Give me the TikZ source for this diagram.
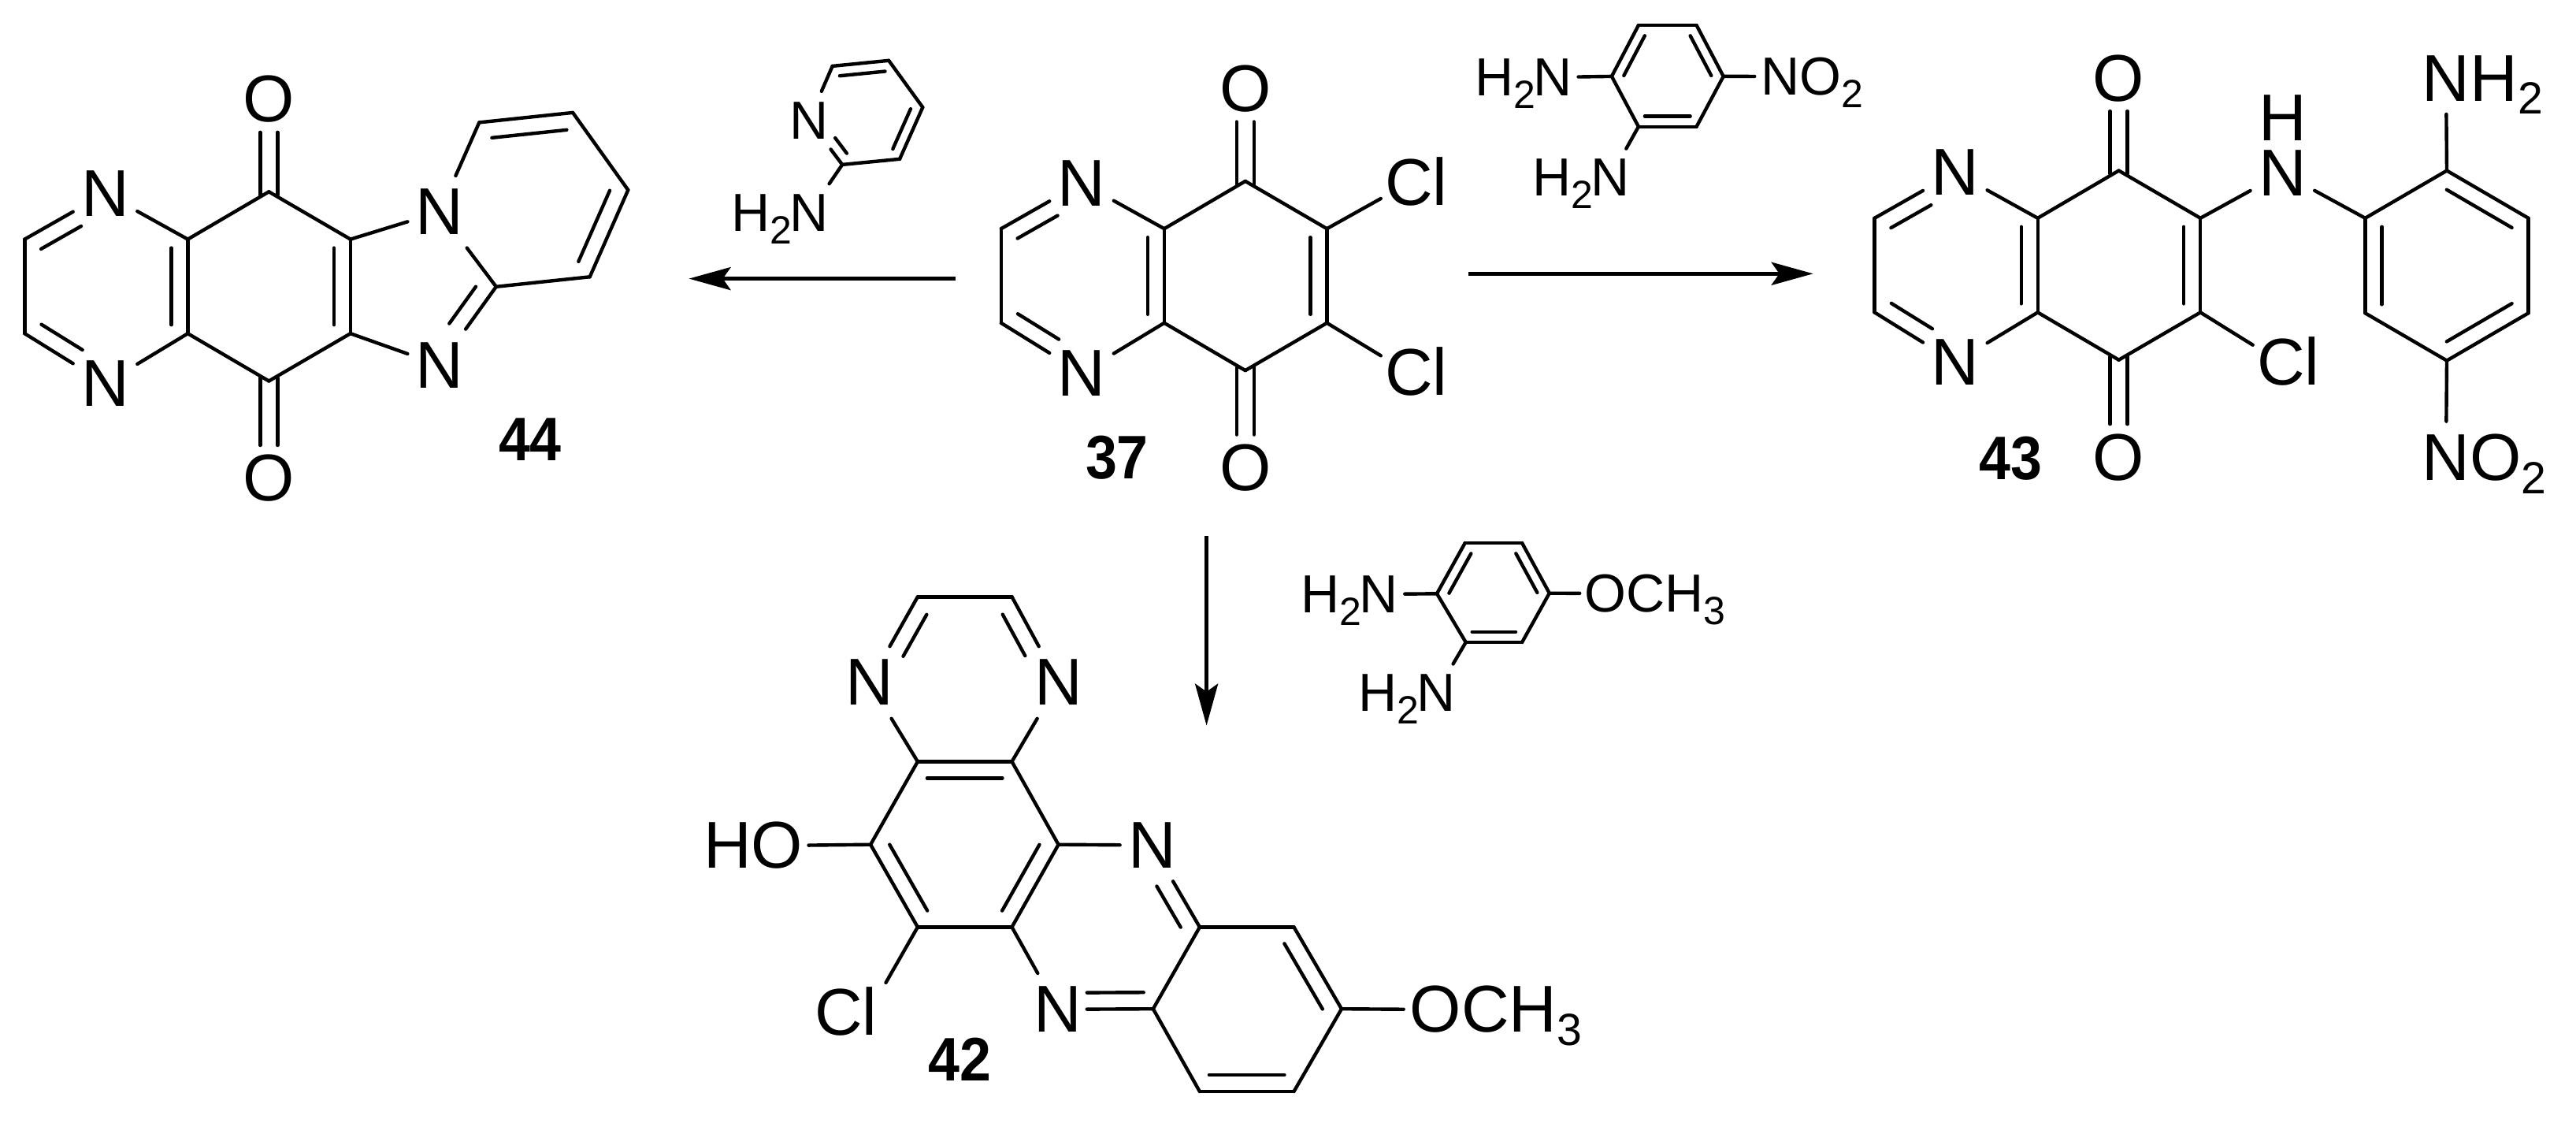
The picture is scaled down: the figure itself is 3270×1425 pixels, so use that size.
\documentclass[tikz,border=0pt]{standalone}
\usepackage{fontspec}
\setmainfont{Liberation Sans}
\usetikzlibrary{calc,arrows.meta}
\newcommand\subM[1]{\raisebox{-4.2pt}{\fontsize{14.3}{14.3}\selectfont #1}}
\newcommand\subR[1]{\raisebox{-4pt}{\fontsize{12.5}{12.5}\selectfont #1}}
\newcommand\aft[1]{\smash{\rlap{#1}}}
\newcommand\bef[1]{\smash{\llap{#1}}}
\newcommand\cpdnum[1]{\scalebox{0.92}[1]{#1}}
\def\dofs{5.25pt}
\newcommand\dbond[5]{%
  \draw[bondl] (#1) -- (#2);
  \draw[bondl] ($(#1)!#4!(#2)!\dofs!#3:(#2)$) -- ($(#2)!#5!(#1)!\dofs!#3:(#2)$);
}
\newcommand\sbond[2]{\draw[bondl] (#1) -- (#2);}
\newcommand\codbl[2]{%
  \draw[bondl] ($(#1)!-1pt!(#2)!2.75pt!90:(#2)$) -- ($(#2)!10.5pt!(#1)!2.75pt!-90:(#1)$);
  \draw[bondl] ($(#1)!-1pt!(#2)!2.75pt!-90:(#2)$) -- ($(#2)!10.5pt!(#1)!2.75pt!90:(#1)$);
}
\newcommand\quinox[3]{%
  \begin{scope}[shift={(#2,#3)}]
    \coordinate (#1ca) at (238.4,303.6);
    \coordinate (#1cb) at (341.3,243.3);
    \coordinate (#1cc) at (444.9,303.6);
    \coordinate (#1cd) at (444.9,423.2);
    \coordinate (#1ce) at (341.3,483.5);
    \coordinate (#1cf) at (238.4,423.2);
    \coordinate (#1cg) at (31.3,303.6);
    \coordinate (#1ch) at (31.3,423.2);
    \node[atom] (#1nt) at (133.5,245.5) {N};
    \node[atom] (#1nb) at (133.5,486.6) {N};
    \node[atomo] (#1ot) at (341.3,125.9) {O};
    \node[atomo] (#1ob) at (341.3,607) {O};
  \end{scope}
  \dbond{#1cg}{#1nt}{-90}{3pt}{11.75pt}
  \sbond{#1nt}{#1ca}
  \sbond{#1ca}{#1cb}
  \sbond{#1cb}{#1cc}
  \dbond{#1cc}{#1cd}{-90}{2.75pt}{2.75pt}
  \dbond{#1ca}{#1cf}{-90}{2.75pt}{2.75pt}
  \sbond{#1cd}{#1ce}
  \sbond{#1ce}{#1cf}
  \sbond{#1cf}{#1nb}
  \dbond{#1ch}{#1nb}{90}{3pt}{11.75pt}
  \sbond{#1cg}{#1ch}
  \codbl{#1cb}{#1ot}
  \codbl{#1ce}{#1ob}
}
\tikzset{
  bondl/.style={line width=1.1pt,line cap=round},
  atom/.style={rectangle,inner sep=0pt,minimum width=20pt,minimum height=22.5pt,font=\fontsize{21}{21}\selectfont},
  atomo/.style={atom,minimum height=21pt},
  atomc/.style={atom,minimum width=17.5pt},
  atoml/.style={atom,minimum width=10pt,minimum height=17.5pt},
  ratom/.style={rectangle,inner sep=0pt,minimum width=16pt,minimum height=18pt,font=\fontsize{17}{17}\selectfont},
  cpdlabel/.style={inner sep=0pt,font=\bfseries\fontsize{19.5}{19.5}\selectfont},
  rxnarrow/.style={line width=1.25pt,-{Stealth[length=13.25pt,width=7.25pt,inset=2.5pt]}}
}
\begin{document}
\begin{tikzpicture}[x=0.25pt,y=-0.25pt]
\useasboundingbox (0,0) rectangle (3270,1425);
\fill[white] (0,0) rectangle (3270,1425);

% --- compound 44
\quinox{a}{0}{0}
\node[atom] (anx) at (558.2,268.8) {N};
\node[atom] (any) at (558.2,463.4) {N};
\coordinate (ac9) at (629.8,363.8);
\coordinate (ap1) at (608.3,155.4);
\coordinate (ap2) at (727.1,142.9);
\coordinate (ap3) at (797.3,241.1);
\coordinate (ap4) at (748.7,351.3);
\sbond{acc}{anx}
\sbond{acd}{any}
\sbond{anx}{ac9}
\sbond{anx}{ap1}
\dbond{ap1}{ap2}{-90}{3.5pt}{2.5pt}
\sbond{ap2}{ap3}
\dbond{ap3}{ap4}{-90}{2.5pt}{3pt}
\sbond{ap4}{ac9}
\dbond{ac9}{any}{-90}{3.75pt}{12.5pt}
\node[cpdlabel] (l44) at (673,558) {\cpdnum{44}};

% --- compound 37
\quinox{b}{1239.5}{-13.4}
\node[atomc] (bcl1) at (1788.6,232) {C\aft{l}};
\node[atomc] (bcl2) at (1788.6,473) {C\aft{l}};
\sbond{bcc}{bcl1}
\sbond{bcd}{bcl2}
\node[cpdlabel] (l37) at (1418,581) {\cpdnum{37}};

% --- compound 43
\quinox{c}{2348.3}{-26.8}
\node[atom] (cnh) at (2897.4,219.6) {N};
\node[atom,minimum height=0pt,minimum width=0pt] (chh) at (2897.4,149.6) {H};
\node[atomc] (ccl) at (2895.5,460) {C\aft{l}};
\coordinate (cq1) at (3002.4,276.8);
\coordinate (cq2) at (3106,216.5);
\coordinate (cq3) at (3209.5,276.8);
\coordinate (cq4) at (3209.5,397.3);
\coordinate (cq5) at (3106,457.6);
\coordinate (cq6) at (3002.4,397.3);
\node[atom] (cn2) at (3105,99.1) {N\aft{H\subM{2}}};
\node[atom] (cn3) at (3105,580.4) {N\aft{O\subM{2}}};
\sbond{ccc}{cnh}
\sbond{cnh}{cq1}
\sbond{ccd}{ccl}
\sbond{cq1}{cq2}
\dbond{cq2}{cq3}{-90}{3pt}{3pt}
\sbond{cq3}{cq4}
\dbond{cq4}{cq5}{-90}{3pt}{3pt}
\sbond{cq5}{cq6}
\dbond{cq6}{cq1}{-90}{2.75pt}{2.75pt}
\sbond{cq2}{cn2}
\sbond{cq5}{cn3}
\node[cpdlabel] (l43) at (2552,581.7) {\cpdnum{43}};

% --- compound 42
\coordinate (da) at (1164.9,757.3);
\coordinate (db) at (1284.5,757.3);
\node[atom] (dn1) at (1103.7,866) {N};
\node[atom] (dn2) at (1343.6,866) {N};
\coordinate (dc) at (1164.9,966.4);
\coordinate (dd) at (1284.5,966.4);
\coordinate (de) at (1105.1,1071.7);
\coordinate (df) at (1343.6,1071.7);
\coordinate (dg) at (1164.9,1176.4);
\coordinate (dh) at (1284.5,1176.4);
\node[atom] (dho) at (985.7,1073) {\bef{H\kern-0.4pt}O};
\node[atoml] (dcl) at (1104,1282.7) {\bef{C}l};
\node[atom] (dn3) at (1462.4,1072.5) {N};
\node[atom,minimum width=18pt] (dn4) at (1342.9,1280.8) {N};
\coordinate (di) at (1522.9,1176.4);
\coordinate (dj) at (1642.5,1176.4);
\coordinate (dk) at (1703,1280.2);
\coordinate (dl) at (1642.5,1385);
\coordinate (dm) at (1522.9,1385);
\coordinate (dp) at (1463.8,1280.2);
\node[atom] (dme) at (1822.5,1281) {O\aft{CH\subM{3}}};
\sbond{da}{db}
\dbond{da}{dn1}{90}{3.5pt}{12.5pt}
\dbond{db}{dn2}{-90}{3.5pt}{12.5pt}
\sbond{dn1}{dc}
\sbond{dn2}{dd}
\dbond{dc}{dd}{-90}{3pt}{3pt}
\sbond{dd}{df}
\dbond{df}{dh}{-90}{3pt}{3pt}
\sbond{dh}{dg}
\dbond{dg}{de}{-90}{3pt}{3pt}
\sbond{de}{dc}
\sbond{de}{dho}
\sbond{dg}{dcl}
\sbond{df}{dn3}
\dbond{di}{dn3}{90}{3pt}{12pt}
\sbond{dh}{dn4}
\dbond{dp}{dn4}{-90}{3pt}{9.25pt}
\sbond{dp}{di}
\sbond{di}{dj}
\dbond{dj}{dk}{-90}{3pt}{3pt}
\sbond{dk}{dl}
\dbond{dl}{dm}{-90}{3pt}{3pt}
\sbond{dm}{dp}
\sbond{dk}{dme}
\node[cpdlabel] (l42) at (1218.4,1344.5) {\cpdnum{42}};

% --- reagents
\def\dofs{3.3pt}
% 2-aminopyridine
\coordinate (ea) at (1056.7,83.9);
\coordinate (eb) at (1128.2,76.8);
\coordinate (ec) at (1171.3,136.2);
\coordinate (ed) at (1142.1,201.8);
\coordinate (ee) at (1069.2,208.9);
\node[ratom] (en) at (1026.8,152.7) {N};
\node[ratom] (enh) at (1027.5,270) {\bef{H\subR{2}\kern-0.6pt}N};
\sbond{en}{ea}
\dbond{ea}{eb}{-90}{2pt}{1.5pt}
\sbond{eb}{ec}
\dbond{ec}{ed}{-90}{2pt}{2pt}
\sbond{ed}{ee}
\dbond{ee}{en}{-90}{2pt}{9.5pt}
\sbond{ee}{enh}

% nitro diamine
\coordinate (fa) at (2045.9,96.9);
\coordinate (fb) at (2079.9,32.1);
\coordinate (fc) at (2153.6,32.1);
\coordinate (fd) at (2187.7,96.9);
\coordinate (fe) at (2153.6,160.7);
\coordinate (ff) at (2079.9,160.7);
\node[ratom] (fn1) at (1970.8,98) {\bef{H\subR{2}\kern-0.7pt}N};
\node[ratom] (fn2) at (2043.8,225.4) {\bef{H\subR{2}\kern-0.7pt}N};
\node[ratom] (fn3) at (2260,97) {N\aft{O\subR{2}}};
\dbond{fa}{fb}{-90}{2pt}{2pt}
\sbond{fb}{fc}
\dbond{fc}{fd}{-90}{2pt}{2pt}
\sbond{fd}{fe}
\dbond{fe}{ff}{-90}{2pt}{2pt}
\sbond{ff}{fa}
\sbond{fa}{fn1}
\sbond{ff}{fn2}
\sbond{fd}{fn3}

% methoxy diamine
\coordinate (ga) at (1824,753.3);
\coordinate (gb) at (1859.7,689);
\coordinate (gc) at (1932.1,689);
\coordinate (gd) at (1966.8,752.7);
\coordinate (ge) at (1932.1,815);
\coordinate (gf) at (1860.7,815);
\node[ratom] (gn1) at (1750.5,754) {\bef{H\subR{2}\kern-0.7pt}N};
\node[ratom] (gn2) at (1823,879.3) {\bef{H\subR{2}\kern-0.7pt}N};
\node[ratom] (go) at (2038,753) {O\aft{CH\subR{3}}};
\dbond{ga}{gb}{-90}{2pt}{2pt}
\sbond{gb}{gc}
\dbond{gc}{gd}{-90}{2pt}{2pt}
\sbond{gd}{ge}
\dbond{ge}{gf}{-90}{2pt}{2pt}
\sbond{gf}{ga}
\sbond{ga}{gn1}
\sbond{gf}{gn2}
\sbond{gd}{go}

% --- reaction arrows
\coordinate (r1s) at (1213,353.6);
\coordinate (r1e) at (874.5,353.6);
\coordinate (r2s) at (1863.7,347.3);
\coordinate (r2e) at (2301.7,347.3);
\coordinate (r3s) at (1531.6,680);
\coordinate (r3e) at (1531.6,920.7);
\draw[rxnarrow] (r1s) -- (r1e);
\draw[rxnarrow] (r2s) -- (r2e);
\draw[rxnarrow] (r3s) -- (r3e);
\end{tikzpicture}
\end{document}
